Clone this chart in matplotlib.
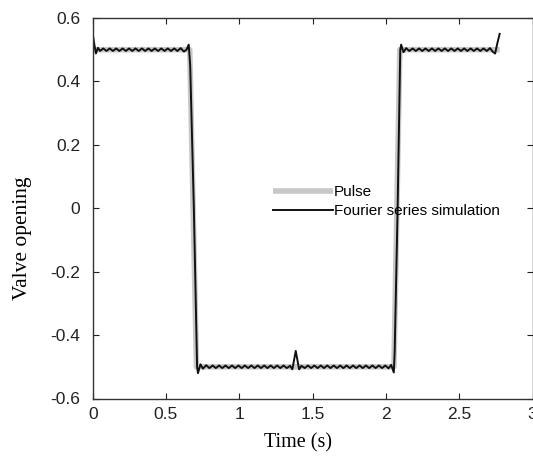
import matplotlib
matplotlib.use("Agg")
import matplotlib.pyplot as plt

# Pulse (reference square pulse), breakpoints
pulse_t = [0.0, 0.662, 0.708, 2.055, 2.095, 2.776]
pulse_v = [0.5, 0.5, -0.5, -0.5, 0.5, 0.5]

# Fourier series simulation (incl. ripples)
fourier_t = [
    0.000, 0.010, 0.022, 0.036, 0.050, 0.072, 0.094, 0.116, 0.138, 0.160,
    0.182, 0.204, 0.226, 0.248, 0.270, 0.292, 0.314, 0.336, 0.358, 0.380,
    0.402, 0.424, 0.446, 0.468, 0.490, 0.512, 0.534, 0.556, 0.578, 0.600,
    0.622, 0.640, 0.655, 0.665, 0.690, 0.712, 0.718, 0.735, 0.752, 0.774,
    0.796, 0.818, 0.840, 0.862, 0.884, 0.906, 0.928, 0.950, 0.972, 0.994,
    1.016, 1.038, 1.060, 1.082, 1.104, 1.126, 1.148, 1.170, 1.192, 1.214,
    1.236, 1.258, 1.280, 1.302, 1.324, 1.346, 1.362, 1.385, 1.408, 1.424,
    1.446, 1.468, 1.490, 1.512, 1.534, 1.556, 1.578, 1.600, 1.622, 1.644,
    1.666, 1.688, 1.710, 1.732, 1.754, 1.776, 1.798, 1.820, 1.842, 1.864,
    1.886, 1.908, 1.930, 1.952, 1.974, 1.996, 2.018, 2.036, 2.054, 2.060,
    2.080, 2.098, 2.104, 2.120, 2.138, 2.160, 2.182, 2.204, 2.226, 2.248,
    2.270, 2.292, 2.314, 2.336, 2.358, 2.380, 2.402, 2.424, 2.446, 2.468,
    2.490, 2.512, 2.534, 2.556, 2.578, 2.600, 2.622, 2.644, 2.666, 2.688,
    2.710, 2.730, 2.745, 2.760, 2.776,
]
fourier_v = [
    0.550, 0.520, 0.488, 0.506, 0.496, 0.504, 0.496, 0.504, 0.496, 0.504,
    0.496, 0.504, 0.496, 0.504, 0.496, 0.504, 0.496, 0.504, 0.496, 0.504,
    0.496, 0.504, 0.496, 0.504, 0.496, 0.504, 0.496, 0.504, 0.496, 0.505,
    0.494, 0.500, 0.516, 0.450, 0.000, -0.500, -0.520, -0.492, -0.506, -0.495,
    -0.504, -0.496, -0.504, -0.496, -0.504, -0.496, -0.504, -0.496, -0.504, -0.496,
    -0.504, -0.496, -0.504, -0.496, -0.504, -0.496, -0.504, -0.496, -0.504, -0.496,
    -0.504, -0.496, -0.504, -0.496, -0.504, -0.497, -0.508, -0.450, -0.508, -0.497,
    -0.504, -0.496, -0.504, -0.496, -0.504, -0.496, -0.504, -0.496, -0.504, -0.496,
    -0.504, -0.496, -0.504, -0.496, -0.504, -0.496, -0.504, -0.496, -0.504, -0.496,
    -0.504, -0.496, -0.504, -0.496, -0.504, -0.496, -0.505, -0.494, -0.518, -0.450,
    0.000, 0.500, 0.516, 0.492, 0.505, 0.496, 0.504, 0.496, 0.504, 0.496,
    0.504, 0.496, 0.504, 0.496, 0.504, 0.496, 0.504, 0.496, 0.504, 0.496,
    0.504, 0.496, 0.504, 0.496, 0.504, 0.496, 0.504, 0.496, 0.504, 0.496,
    0.505, 0.493, 0.488, 0.520, 0.550,
]

x_ticks = [0, 0.5, 1, 1.5, 2, 2.5, 3]
x_tick_labels = ["0", "0.5", "1", "1.5", "2", "2.5", "3"]
y_ticks = [-0.6, -0.4, -0.2, 0, 0.2, 0.4, 0.6]
y_tick_labels = ["-0.6", "-0.4", "-0.2", "0", "0.2", "0.4", "0.6"]

plt.rcParams['font.family'] = ['Liberation Sans', 'DejaVu Sans']

fig = plt.figure(figsize=(5.33, 4.57), dpi=100)
ax = fig.add_axes([92.7 / 533, 1 - 398.5 / 457, (532.5 - 92.7) / 533, (398.5 - 18) / 457])

ax.plot(pulse_t, pulse_v, color="#c8c8c8", lw=4, solid_capstyle="butt", label="Pulse")
ax.plot(fourier_t, fourier_v, color="#111111", lw=1.4, label="Fourier series simulation")

ax.set_xlim(0, 3)
ax.set_ylim(-0.6, 0.6)
ax.set_xticks(x_ticks)
ax.set_xticklabels(x_tick_labels)
ax.set_yticks(y_ticks)
ax.set_yticklabels(y_tick_labels)
ax.tick_params(direction="in", length=4, width=0.8, top=True, right=True,
               labelsize=12.5, colors="#222222")
ax.tick_params(axis="y", pad=9)
ax.tick_params(axis="x", pad=6)
for s in ax.spines.values():
    s.set_linewidth(1.0)
    s.set_color("#333333")

ax.set_xlabel("Time (s)", family=["Liberation Serif"], fontsize=14.5)
ax.set_ylabel("Valve opening", family=["Liberation Serif"], fontsize=15.5)
ax.xaxis.set_label_coords((298 - 92.7) / (532.5 - 92.7), -(433 - 398.5) / 380.5)
ax.yaxis.set_label_coords(-(92.7 - 32) / 439.8, (398.5 - 238) / 380.5)

leg = ax.legend(loc="center left", bbox_to_anchor=(0.41, 0.517), frameon=False,
                fontsize=11, handlelength=3.9, handletextpad=0.1,
                labelspacing=0.35, borderpad=0, borderaxespad=0)

fig.savefig("out.png", dpi=100)
